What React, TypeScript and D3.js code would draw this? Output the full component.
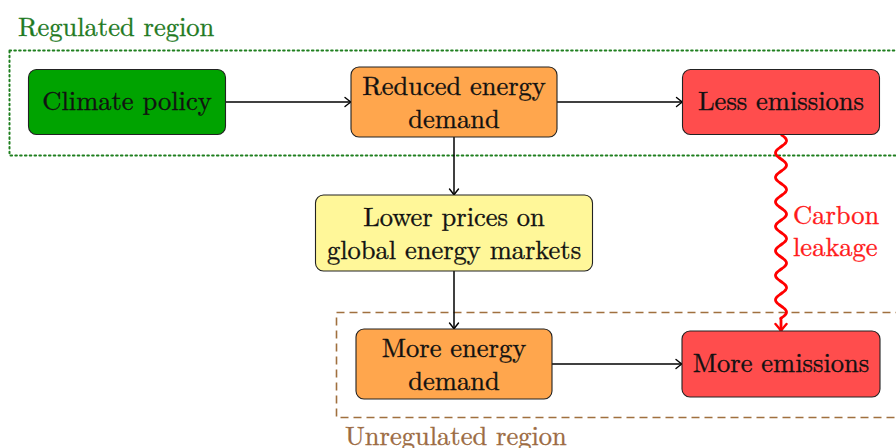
import React, { useEffect, useRef } from "react";
import * as d3 from "d3";

// nodes of the flow chart
const nodeLabels: string[][] = [
  ["Climate policy"],
  ["Reduced energy", "demand"],
  ["Less emissions"],
  ["Lower prices on", "global energy markets"],
  ["More energy", "demand"],
  ["More emissions"],
];
const nodeCols = [0, 1, 2, 1, 1, 2];
const nodeRows = [0, 0, 0, 1, 2, 2];
const edges: [number, number][] = [
  [0, 1],
  [1, 2],
  [1, 3],
  [3, 4],
  [4, 5],
];
const leakEdge: [number, number] = [2, 5];
const leakLabel = ["Carbon", "leakage"];
const regionLabels = ["Regulated region", "Unregulated region"];

// box sizes and fills (style, not data)
const nodeW = [197, 206, 197, 277, 196, 198];
const nodeH = [65, 70, 65, 76, 70, 66];
const nodeFill = ["#00a300", "#ffa64d", "#ff4d4d", "#fff799", "#ffa64d", "#ff4d4d"];

const FONT = "Latin Modern Roman";
const FS = 26.5;
const TXT_STROKE = 0.35;

const App = () => {
  const ref = useRef<SVGSVGElement>(null);

  useEffect(() => {
    const svg = d3.select(ref.current);
    svg.selectAll("*").remove();

    const width = 896;
    const height = 448;
    svg.attr("width", width).attr("height", height);

    const x = d3.scalePoint<number>().domain([0, 1, 2]).range([127, 781]);
    const y = d3.scalePoint<number>().domain([0, 1, 2]).range([102, 364]);

    const nodes = nodeLabels.map((lab, i) => ({
      lab,
      cx: x(nodeCols[i])!,
      cy: y(nodeRows[i])!,
      w: nodeW[i],
      h: nodeH[i],
      fill: nodeFill[i],
    }));

    const defs = svg.append("defs");
    defs
      .append("marker")
      .attr("id", "arrowBlack")
      .attr("viewBox", "-10 -6 12 12")
      .attr("markerWidth", 12)
      .attr("markerHeight", 12)
      .attr("markerUnits", "userSpaceOnUse")
      .attr("refX", 0)
      .attr("refY", 0)
      .attr("orient", "auto")
      .append("path")
      .attr("d", "M-6,-4.5 Q-2,-1.2 0,0 Q-2,1.2 -6,4.5")
      .attr("fill", "none")
      .attr("stroke", "black")
      .attr("stroke-width", 1.4)
      .attr("stroke-linecap", "round");
    defs
      .append("marker")
      .attr("id", "arrowRed")
      .attr("viewBox", "-12 -7 14 14")
      .attr("markerWidth", 14)
      .attr("markerHeight", 14)
      .attr("markerUnits", "userSpaceOnUse")
      .attr("refX", 0)
      .attr("refY", 0)
      .attr("orient", "auto")
      .append("path")
      .attr("d", "M-7,-5.5 Q-2.5,-1.5 0,0 Q-2.5,1.5 -7,5.5")
      .attr("fill", "none")
      .attr("stroke", "#ff0000")
      .attr("stroke-width", 2.4)
      .attr("stroke-linecap", "round");

    // region frames
    svg
      .append("rect")
      .attr("x", 9.5)
      .attr("y", 50.5)
      .attr("width", 1000)
      .attr("height", 105)
      .attr("fill", "none")
      .attr("stroke", "#1f7f1f")
      .attr("stroke-width", 2)
      .attr("stroke-dasharray", "1.6,3.2")
      .attr("stroke-linecap", "round");
    svg
      .append("text")
      .attr("x", 18)
      .attr("y", 36)
      .attr("fill", "#1f7a1f")
      .attr("stroke", "#1f7a1f")
      .attr("stroke-width", TXT_STROKE)
      .attr("font-family", FONT)
      .attr("font-size", FS)
      .text(regionLabels[0]);

    svg
      .append("rect")
      .attr("x", 336.5)
      .attr("y", 312.5)
      .attr("width", 1000)
      .attr("height", 105)
      .attr("fill", "none")
      .attr("stroke", "#a0703f")
      .attr("stroke-width", 1.6)
      .attr("stroke-dasharray", "8,5");
    svg
      .append("text")
      .attr("x", 345)
      .attr("y", 445)
      .attr("fill", "#9c6b42")
      .attr("stroke", "#9c6b42")
      .attr("stroke-width", TXT_STROKE)
      .attr("font-family", FONT)
      .attr("font-size", FS)
      .text(regionLabels[1]);

    // edges
    edges.forEach(([a, b]) => {
      const s = nodes[a];
      const t = nodes[b];
      let x1, y1, x2, y2;
      if (nodeRows[a] === nodeRows[b]) {
        x1 = s.cx + s.w / 2;
        x2 = t.cx - t.w / 2;
        y1 = y2 = s.cy;
      } else {
        x1 = x2 = s.cx;
        y1 = s.cy + s.h / 2;
        y2 = t.cy - t.h / 2;
      }
      svg
        .append("line")
        .attr("x1", x1)
        .attr("y1", y1)
        .attr("x2", x2)
        .attr("y2", y2)
        .attr("stroke", "black")
        .attr("stroke-width", 1.5)
        .attr("marker-end", "url(#arrowBlack)");
    });

    // carbon leakage: snake line
    const ls = nodes[leakEdge[0]];
    const lt = nodes[leakEdge[1]];
    const y0 = ls.cy + ls.h / 2;
    const yEnd = lt.cy - lt.h / 2;
    const snakeEnd = yEnd - 12;
    const period = 24.5;
    const amp = 5.5;
    const pts: [number, number][] = [];
    for (let yy = y0; yy <= snakeEnd; yy += 1) {
      pts.push([ls.cx + amp * Math.sin(((yy - y0) / period) * 2 * Math.PI), yy]);
    }
    pts.push([ls.cx, snakeEnd + 1]);
    pts.push([ls.cx, yEnd]);
    svg
      .append("path")
      .attr("d", d3.line()(pts))
      .attr("fill", "none")
      .attr("stroke", "#ff0000")
      .attr("stroke-width", 2.8)
      .attr("stroke-linejoin", "round")
      .attr("marker-end", "url(#arrowRed)");

    const leak = svg
      .append("text")
      .attr("x", ls.cx + 12)
      .attr("y", 224)
      .attr("fill", "#ff1a1a")
      .attr("stroke", "#ff1a1a")
      .attr("stroke-width", TXT_STROKE)
      .attr("font-family", FONT)
      .attr("font-size", FS);
    leakLabel.forEach((l, i) => {
      leak
        .append("tspan")
        .attr("x", ls.cx + 12)
        .attr("dy", i === 0 ? 0 : 32)
        .text(l);
    });

    // node boxes
    const g = svg
      .selectAll("g.node")
      .data(nodes)
      .enter()
      .append("g")
      .attr("class", "node")
      .attr("transform", (d) => `translate(${d.cx},${d.cy})`);

    g.append("rect")
      .attr("x", (d) => -d.w / 2)
      .attr("y", (d) => -d.h / 2)
      .attr("width", (d) => d.w)
      .attr("height", (d) => d.h)
      .attr("rx", 8)
      .attr("fill", (d) => d.fill)
      .attr("stroke", "#222")
      .attr("stroke-width", 1.1);

    const txt = g
      .append("text")
      .attr("text-anchor", "middle")
      .attr("fill", "#111")
      .attr("stroke", "#111")
      .attr("stroke-width", TXT_STROKE)
      .attr("font-family", FONT)
      .attr("font-size", FS);

    txt
      .selectAll("tspan")
      .data((d) => d.lab.map((l, i) => ({ l, i, n: d.lab.length })))
      .enter()
      .append("tspan")
      .attr("x", 0)
      .attr("y", (d) => (d.n === 1 ? 8 : d.i === 0 ? -7 : 26))
      .text((d) => d.l);
  }, []);

  return (
    <svg
      ref={ref}
      style={{ position: "absolute", left: 0, top: 0, display: "block" }}
    ></svg>
  );
};

export default App;
